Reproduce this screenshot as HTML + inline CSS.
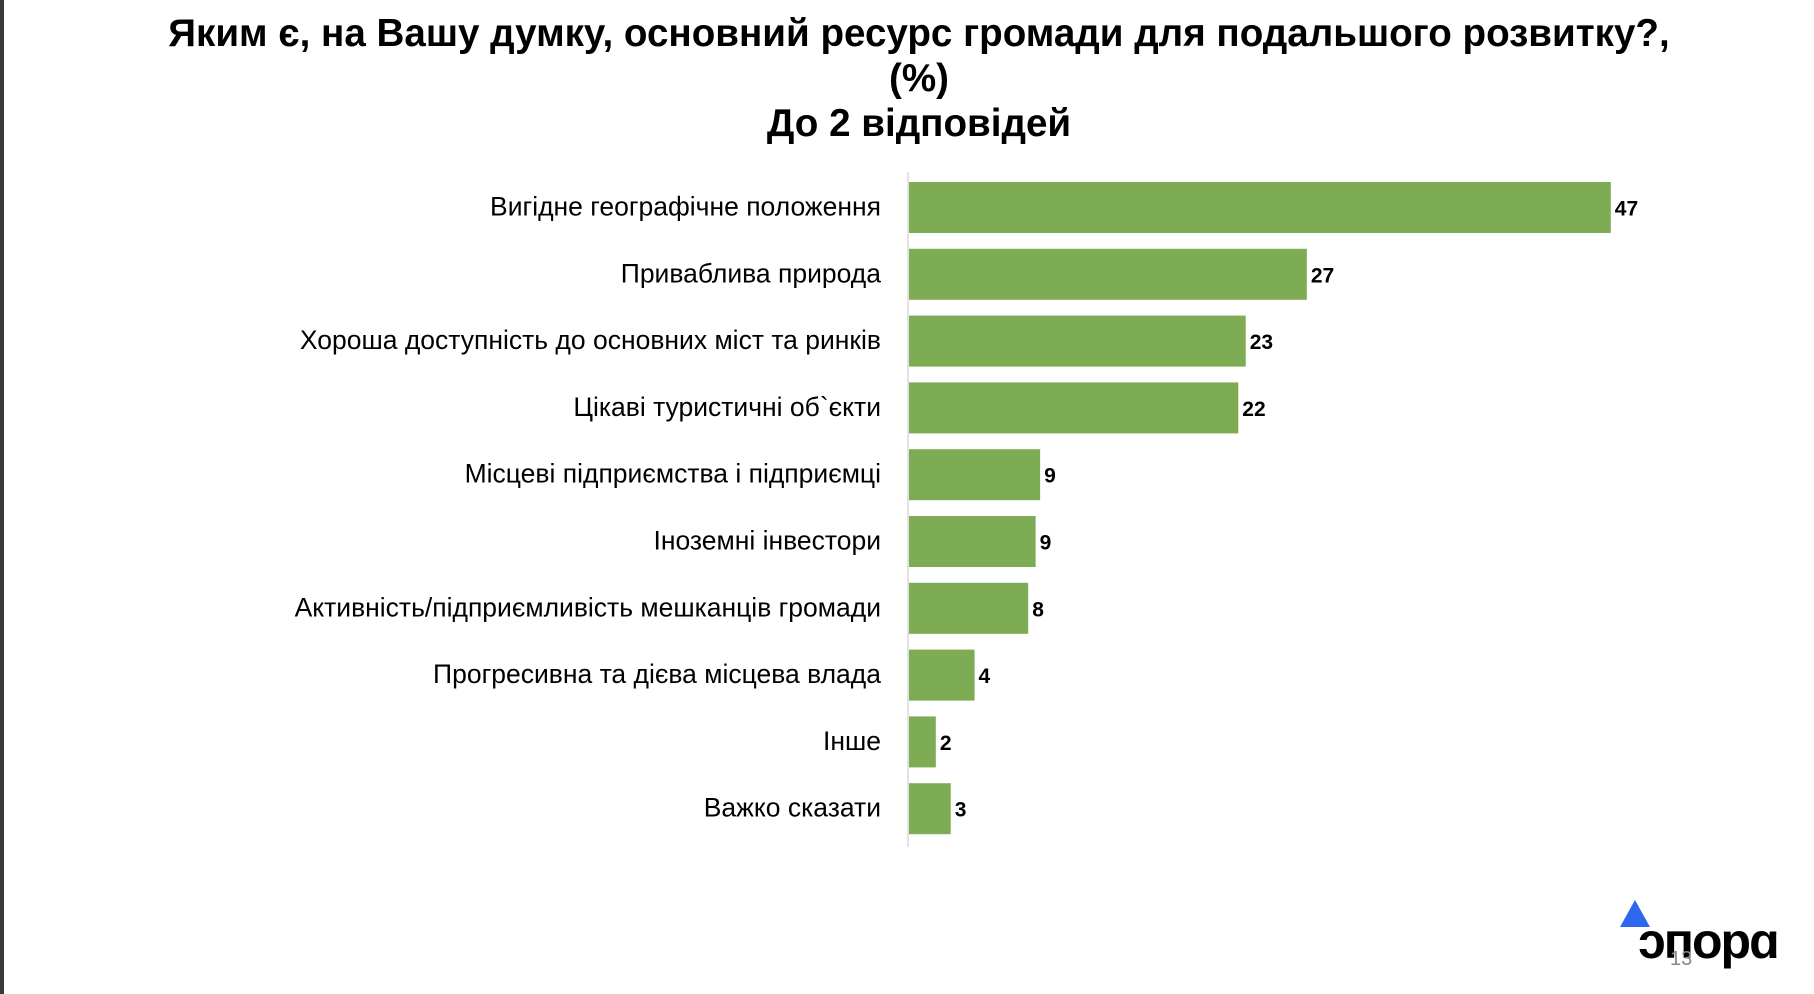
<!DOCTYPE html>
<html><head><meta charset="utf-8">
<style>
html,body{margin:0;padding:0;width:1814px;height:994px;background:#fff;overflow:hidden;font-family:"Liberation Sans","Noto Sans CJK SC",sans-serif;}
#title{position:absolute;left:0;top:11px;width:1838px;text-align:center;font-weight:bold;font-size:38.6px;line-height:45px;color:#000;}
#leftbar{position:absolute;left:0;top:0;width:4px;height:994px;background:#3a3a3a;}
</style></head>
<body>
<div id="leftbar"></div>
<div id="title">Яким є, на Вашу думку, основний ресурс громади для подальшого розвитку?,<br>(%)<br>До 2 відповідей</div>
<svg id="chart" width="1814" height="994" style="position:absolute;left:0;top:0"></svg>
<div style="position:absolute;left:1620px;top:898px;width:180px;height:80px;">
  <div style="position:absolute;left:0;top:2px;width:0;height:0;border-left:15px solid transparent;border-right:15px solid transparent;border-bottom:27px solid #2f66ee;"></div>
  <div style="position:absolute;left:18px;top:14px;font-weight:bold;font-size:50px;color:#000;letter-spacing:-2px;">ɔпорɑ</div>
  <div style="position:absolute;left:50px;top:50px;font-size:20px;color:#888;">13</div>
</div>
<script>
const categories=["Вигідне географічне положення","Приваблива природа","Хороша доступність до основних міст та ринків","Цікаві туристичні об`єкти","Місцеві підприємства і підприємці","Іноземні інвестори","Активність/підприємливість мешканців громади","Прогресивна та дієва місцева влада","Інше","Важко сказати"];
const values=[47.1,26.7,22.6,22.1,8.8,8.5,8.0,4.4,1.8,2.8];
const labels=["47","27","23","22","9","9","8","4","2","3"];
const svg=document.getElementById('chart');
const NS="http://www.w3.org/2000/svg";
const x0=909, unit=14.9, y0=182, pitch=66.8, bh=51;
function xs(v){return x0+v*unit;}
function ys(i){return y0+i*pitch;}
const ax=document.createElementNS(NS,'line');
ax.setAttribute('x1',908);ax.setAttribute('x2',908);ax.setAttribute('y1',172);ax.setAttribute('y2',847);
ax.setAttribute('stroke','#d9d9d9');ax.setAttribute('stroke-width','1.5');


svg.appendChild(ax);
categories.forEach((c,i)=>{
  const r=document.createElementNS(NS,'rect');
  r.setAttribute('x',x0);r.setAttribute('y',ys(i));r.setAttribute('width',xs(values[i])-x0);r.setAttribute('height',bh);r.setAttribute('fill','#7eac55');
  
  
  svg.appendChild(r);
  const t=document.createElementNS(NS,'text');
  t.setAttribute('x',881);t.setAttribute('y',ys(i)+bh/2+8);t.setAttribute('text-anchor','end');
  t.setAttribute('font-size','26.5');t.setAttribute('fill','#000');t.setAttribute('font-family','"Liberation Sans", sans-serif');
  t.textContent=c;
  
  
  svg.appendChild(t);
  const v=document.createElementNS(NS,'text');
  v.setAttribute('x',xs(values[i])+4);v.setAttribute('y',ys(i)+bh/2+8);
  v.setAttribute('font-size','21');v.setAttribute('font-weight','bold');v.setAttribute('fill','#000');v.setAttribute('font-family','"Liberation Sans", sans-serif');
  v.textContent=labels[i];
  
  
  svg.appendChild(v);
});
</script>
</body></html>
